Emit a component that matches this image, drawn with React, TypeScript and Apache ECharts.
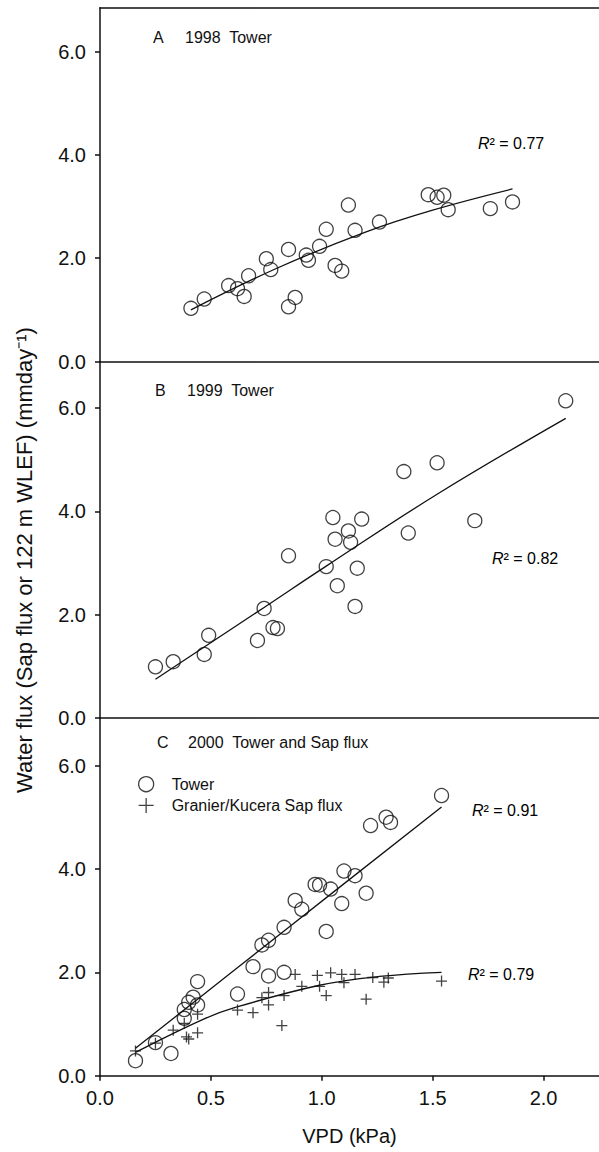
import React, { useEffect, useRef } from "react";
import * as echarts from "echarts";

// ---- axis ticks ----
const X_TICKS = [0, 0.5, 1.0, 1.5, 2.0];
const Y_TICKS = [0, 2, 4, 6];

// ---- Panel A: 1998 Tower (VPD kPa, water flux mm/day) ----
const tower1998 = [
  [0.41, 1.03], [0.47, 1.21], [0.58, 1.47], [0.62, 1.41], [0.65, 1.26], [0.67, 1.66],
  [0.75, 1.99], [0.77, 1.78], [0.85, 2.17], [0.85, 1.06], [0.88, 1.24], [0.93, 2.06],
  [0.94, 1.96], [0.99, 2.23], [1.02, 2.56], [1.06, 1.86], [1.09, 1.75], [1.12, 3.03],
  [1.15, 2.54], [1.26, 2.7], [1.48, 3.23], [1.52, 3.18], [1.55, 3.22], [1.57, 2.94],
  [1.76, 2.96], [1.86, 3.09],
];
const fit1998 = [[0.41, 1.0], [0.8, 1.81], [1.2, 2.51], [1.5, 2.93], [1.86, 3.34]];

// ---- Panel B: 1999 Tower ----
const tower1999 = [
  [0.25, 0.99], [0.33, 1.09], [0.47, 1.23], [0.49, 1.6], [0.71, 1.5], [0.74, 2.12],
  [0.78, 1.75], [0.8, 1.73], [0.85, 3.14], [1.02, 2.93], [1.05, 3.88], [1.06, 3.46],
  [1.07, 2.56], [1.12, 3.62], [1.13, 3.4], [1.15, 2.16], [1.16, 2.9], [1.18, 3.85],
  [1.37, 4.77], [1.39, 3.58], [1.52, 4.94], [1.69, 3.82], [2.1, 6.14],
];
const fit1999 = [[0.25, 0.75], [0.74, 2.14], [1.02, 2.94], [1.52, 4.33], [2.1, 5.8]];

// ---- Panel C: 2000 Tower and Sap flux ----
const tower2000 = [
  [0.16, 0.29], [0.25, 0.64], [0.32, 0.43], [0.38, 1.11], [0.38, 1.28], [0.4, 1.42],
  [0.42, 1.52], [0.44, 1.37], [0.44, 1.82], [0.62, 1.58], [0.69, 2.11], [0.73, 2.53],
  [0.76, 2.62], [0.76, 1.93], [0.83, 2.87], [0.83, 2.0], [0.88, 3.39], [0.91, 3.22],
  [0.97, 3.7], [0.99, 3.69], [1.02, 2.79], [1.04, 3.61], [1.09, 3.33], [1.1, 3.96],
  [1.15, 3.87], [1.2, 3.53], [1.22, 4.84], [1.29, 5.0], [1.31, 4.9], [1.54, 5.42],
];
const sap2000 = [
  [0.16, 0.48], [0.25, 0.63], [0.33, 0.88], [0.38, 1.01], [0.39, 0.75], [0.4, 0.71],
  [0.44, 1.19], [0.44, 0.83], [0.62, 1.27], [0.69, 1.22], [0.73, 1.51], [0.76, 1.37],
  [0.76, 1.61], [0.82, 0.97], [0.83, 1.55], [0.88, 1.96], [0.91, 1.73], [0.98, 1.94],
  [0.99, 1.73], [1.02, 1.55], [1.04, 1.99], [1.09, 1.96], [1.1, 1.8], [1.15, 1.96],
  [1.2, 1.48], [1.23, 1.9], [1.28, 1.81], [1.3, 1.89], [1.54, 1.83],
];
const fitTower2000 = [[0.16, 0.53], [0.83, 2.8], [1.54, 5.2]];
const fitSap2000 = [[0.16, 0.45], [0.46, 1.08], [0.61, 1.32], [0.99, 1.75], [1.26, 1.92], [1.54, 2.0]];

// ---- texts ----
const panelLetters = ["A", "B", "C"];
const panelTitles = ["1998  Tower", "1999  Tower", "2000  Tower and Sap flux"];
const r2Labels = ["0.77", "0.82", "0.91", "0.79"];
const legendNames = ["Tower", "Granier/Kucera Sap flux"];
const yAxisTitle = "Water flux (Sap flux or 122 m WLEF) (mmday\u207B\u00B9)";
const xAxisTitle = "VPD (kPa)";

const FONT = "'Liberation Sans', Arial, Helvetica, sans-serif";
const INK = "#111";
const PLUS = "path://M0,5L10,5M5,0L5,10";

export default function App() {
  const ref = useRef<HTMLDivElement>(null);

  useEffect(() => {
    if (!ref.current) return;
    const chart = echarts.init(ref.current, null, { renderer: "svg" });

    const grids = [
      { left: 100, width: 503, top: 7.7, height: 353.8 },
      { left: 100, width: 503, top: 361.5, height: 356.5 },
      { left: 100, width: 503, top: 718, height: 357.7 },
    ];
    const yMax = [6.85, 6.9, 6.92];
    const X_MAX = 2.25;

    const axisLine = { show: true, lineStyle: { color: INK, width: 1.5 } };
    const labelStyle = { fontSize: 20, fontFamily: FONT, color: INK };

    const xAxes: any[] = grids.map((_, i) => ({
      type: "value",
      gridIndex: i,
      min: 0,
      max: X_MAX,
      axisLine,
      splitLine: { show: false },
      axisTick: {
        show: i === 2,
        inside: false,
        length: 5,
        customValues: X_TICKS,
        lineStyle: { color: INK, width: 1.5 },
      },
      axisLabel: {
        show: i === 2,
        customValues: X_TICKS,
        formatter: (v: number) => v.toFixed(1),
        margin: 12,
        ...labelStyle,
      },
      name: i === 2 ? xAxisTitle : "",
      nameLocation: "middle",
      nameGap: 50,
      nameTextStyle: { fontSize: 20, fontFamily: FONT, color: INK },
    }));
    // top frame line of panel A
    xAxes.push({
      type: "value",
      gridIndex: 0,
      position: "top",
      min: 0,
      max: X_MAX,
      axisLine,
      axisTick: { show: false },
      axisLabel: { show: false },
      splitLine: { show: false },
    });

    const yAxes = grids.map((_, i) => ({
      type: "value",
      gridIndex: i,
      min: 0,
      max: yMax[i],
      axisLine,
      splitLine: { show: false },
      axisTick: {
        show: true,
        inside: false,
        length: 5,
        customValues: Y_TICKS,
        lineStyle: { color: INK, width: 1.5 },
      },
      axisLabel: {
        customValues: Y_TICKS,
        formatter: (v: number) => v.toFixed(1),
        margin: 14,
        ...labelStyle,
      },
    }));

    const circleStyle = { color: "rgba(255,255,255,0)", borderColor: INK, borderWidth: 1.3 };
    const plusStyle = { color: "rgba(255,255,255,0)", borderColor: INK, borderWidth: 1.3 };
    const fitLine = (data: number[][], i: number, name: string) => ({
      type: "line",
      name,
      xAxisIndex: i,
      yAxisIndex: i,
      data,
      smooth: 0.4,
      showSymbol: false,
      silent: true,
      lineStyle: { color: INK, width: 1.3 },
      z: 1,
    });
    const circles = (data: number[][], i: number, name: string) => ({
      type: "scatter",
      name,
      xAxisIndex: i,
      yAxisIndex: i,
      data,
      symbol: "circle",
      symbolSize: 14,
      itemStyle: circleStyle,
      z: 3,
    });

    const series: any[] = [
      circles(tower1998, 0, "1998 Tower"),
      fitLine(fit1998, 0, "1998 fit"),
      circles(tower1999, 1, "1999 Tower"),
      fitLine(fit1999, 1, "1999 fit"),
      circles(tower2000, 2, legendNames[0]),
      {
        type: "scatter",
        name: legendNames[1],
        xAxisIndex: 2,
        yAxisIndex: 2,
        data: sap2000,
        symbol: PLUS,
        symbolSize: 11,
        itemStyle: plusStyle,
        z: 3,
      },
      fitLine(fitTower2000, 2, "2000 Tower fit"),
      fitLine(fitSap2000, 2, "2000 Sap fit"),
    ];

    const titleFont = `16px ${FONT}`;
    const letterPos = [
      { x: 153, y: 37 },
      { x: 155, y: 390 },
      { x: 157, y: 742 },
    ];
    const titleX = [185, 187, 188];
    const r2Pos = [
      { x: 478, y: 143 },
      { x: 492, y: 558 },
      { x: 472, y: 810 },
      { x: 468, y: 974 },
    ];

    const graphic: any[] = [];
    panelLetters.forEach((l, i) => {
      graphic.push({
        type: "text",
        x: letterPos[i].x,
        y: letterPos[i].y,
        style: { text: l, font: titleFont, fill: INK, align: "left", verticalAlign: "middle" },
      });
      graphic.push({
        type: "text",
        x: titleX[i],
        y: letterPos[i].y,
        style: { text: panelTitles[i], font: titleFont, fill: INK, align: "left", verticalAlign: "middle" },
      });
    });
    r2Labels.forEach((v, i) => {
      graphic.push({
        type: "text",
        x: r2Pos[i].x,
        y: r2Pos[i].y,
        style: {
          text: `{i|R}{n|\u00B2 = ${v}}`,
          align: "left",
          verticalAlign: "middle",
          rich: {
            i: { fontStyle: "italic", fontSize: 16, fontFamily: FONT, color: INK },
            n: { fontSize: 16, fontFamily: FONT, color: INK },
          },
        },
      });
    });
    graphic.push({
      type: "text",
      x: 24,
      y: 560,
      rotation: Math.PI / 2,
      style: {
        text: yAxisTitle,
        font: `22px ${FONT}`,
        fill: INK,
        align: "center",
        verticalAlign: "middle",
      },
    });

    const option: any = {
      animation: false,
      backgroundColor: "#fff",
      grid: grids,
      xAxis: xAxes,
      yAxis: yAxes,
      legend: {
        data: legendNames,
        orient: "vertical",
        left: 133,
        top: 771,
        itemWidth: 15,
        itemHeight: 15,
        itemGap: 5,
        selectedMode: false,
        itemStyle: { borderWidth: 1.3 },
        textStyle: { fontSize: 16, fontFamily: FONT, color: INK, padding: [0, 0, 0, 13] },
      },
      graphic,
      series,
    };

    chart.setOption(option);
    return () => chart.dispose();
  }, []);

  return (
    <div
      ref={ref}
      style={{ position: "absolute", left: 0, top: 0, width: 599, height: 1152, background: "#fff" }}
    />
  );
}
